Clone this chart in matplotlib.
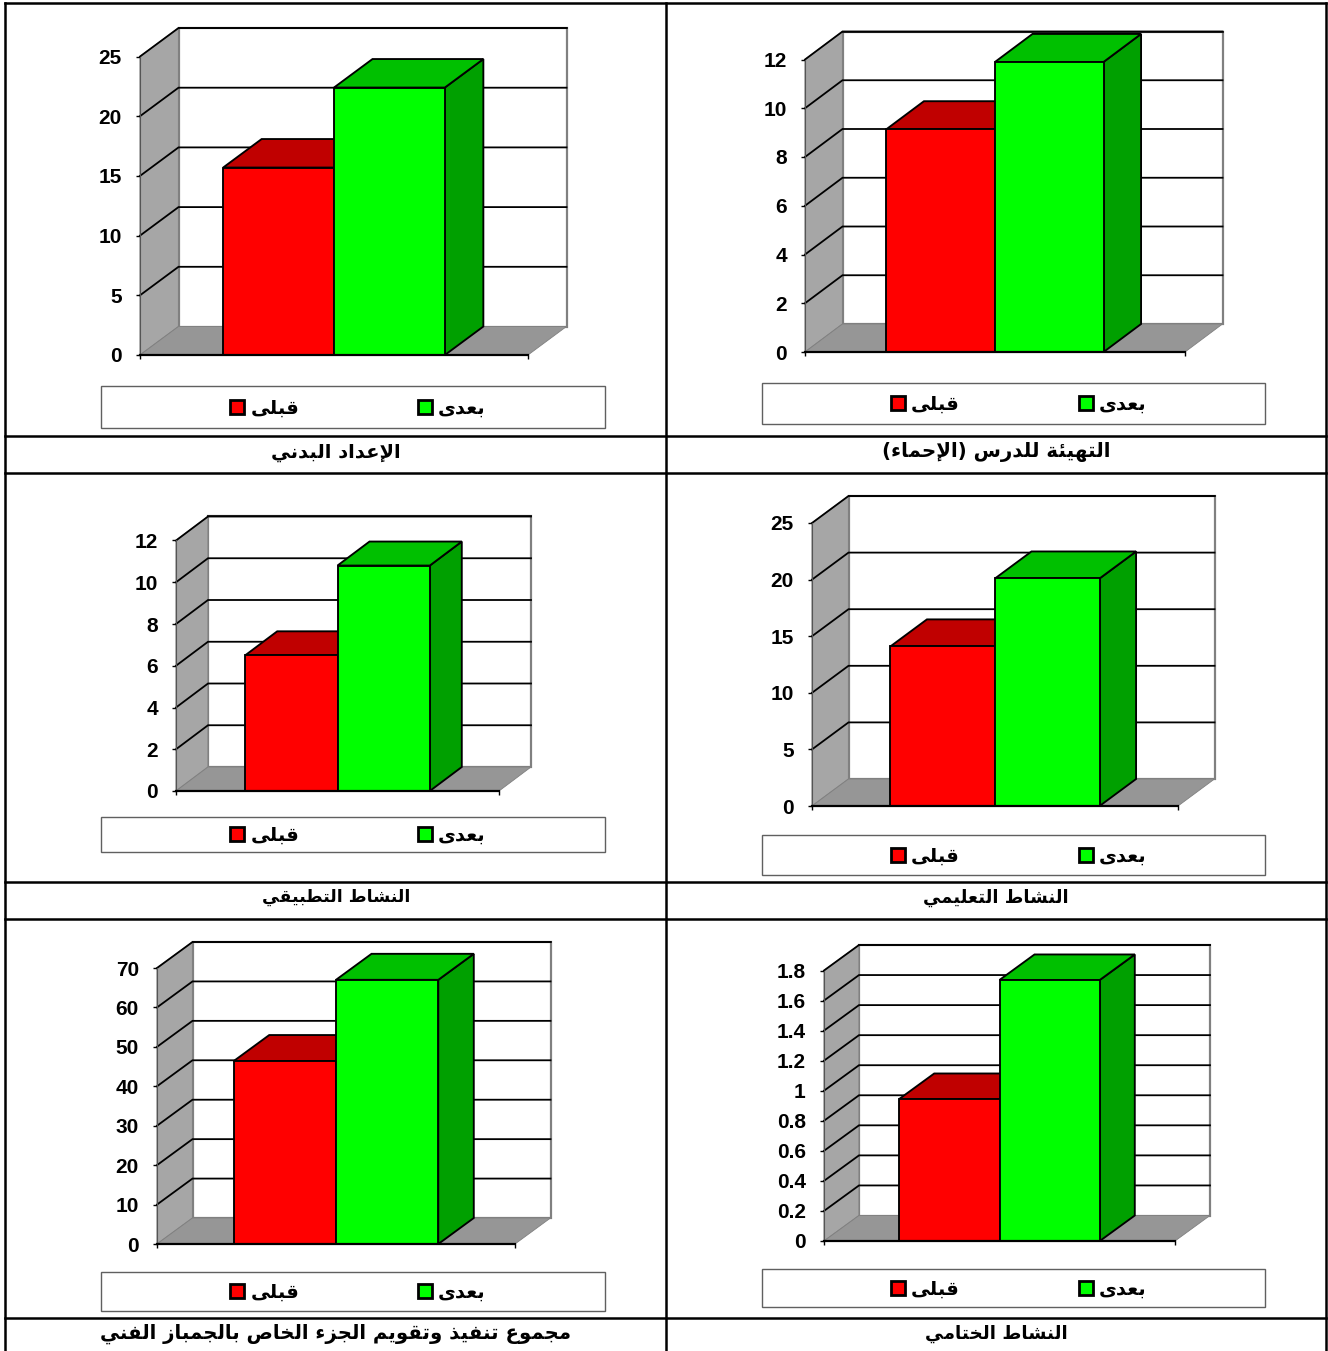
import matplotlib
matplotlib.use("Agg")
import matplotlib.pyplot as plt
from matplotlib.patches import Patch, Rectangle

# ---------- data ----------
titles = ["الإعداد البدني", "التهيئة للدرس (الإحماء)",
          "النشاط التطبيقي", "النشاط التعليمي",
          "مجموع تنفيذ وتقويم الجزء الخاص بالجمباز الفني", "النشاط الختامي"]
series_names = ["قبلى", "بعدى"]
before = [15.7, 9.14, 6.5, 14.1, 46.4, 0.945]
after = [22.4, 11.9, 10.8, 20.1, 67.0, 1.737]
ticks = [[0, 5, 10, 15, 20, 25],
         [0, 2, 4, 6, 8, 10, 12],
         [0, 2, 4, 6, 8, 10, 12],
         [0, 5, 10, 15, 20, 25],
         [0, 10, 20, 30, 40, 50, 60, 70],
         [0, 0.2, 0.4, 0.6, 0.8, 1.0, 1.2, 1.4, 1.6, 1.8]]
tick_labels = [["0", "5", "10", "15", "20", "25"],
               ["0", "2", "4", "6", "8", "10", "12"],
               ["0", "2", "4", "6", "8", "10", "12"],
               ["0", "5", "10", "15", "20", "25"],
               ["0", "10", "20", "30", "40", "50", "60", "70"],
               ["0", "0.2", "0.4", "0.6", "0.8", "1", "1.2", "1.4", "1.6", "1.8"]]

# ---------- layout (pixels in the figure) ----------
W, H = 1328, 1351
front_x0 = [140, 805, 176, 812, 157, 824]
front_x1 = [528, 1185, 499, 1178, 515, 1175]
front_y0 = [355, 352, 791, 806, 1244, 1241]
front_top = [56.5, 59.5, 540.5, 523, 968, 970.5]
depth_x = [38.5, 37.5, 32, 36.5, 35.5, 35]
depth_y = [28.5, 28, 24, 27, 26, 25.5]
legend_box = [(101, 605, 386, 428), (762, 1265, 383, 424), (101, 605, 817, 852),
              (762, 1265, 835, 875), (101, 605, 1272, 1311), (762, 1265, 1269, 1307)]
title_xy = [(336, 452), (996, 452), (336, 897), (996, 897), (336, 1333), (996, 1333)]
title_pt = [14.0, 14.2, 12.4, 12.9, 14.1, 13.2]
table_v = [5, 666, 1326]
table_h = [3, 436, 473, 882, 919, 1318]

# ---------- Arabic shaping to presentation forms (visual order) ----------
_forms = {}
_cp = 0xFE80
for _ch, _n in [("ء", 1), ("آ", 2), ("أ", 2), ("ؤ", 2), ("إ", 2), ("ئ", 4), ("ا", 2), ("ب", 4),
                ("ة", 2), ("ت", 4), ("ث", 4), ("ج", 4), ("ح", 4), ("خ", 4), ("د", 2), ("ذ", 2),
                ("ر", 2), ("ز", 2), ("س", 4), ("ش", 4), ("ص", 4), ("ض", 4), ("ط", 4), ("ظ", 4),
                ("ع", 4), ("غ", 4), ("ف", 4), ("ق", 4), ("ك", 4), ("ل", 4), ("م", 4), ("ن", 4),
                ("ه", 4), ("و", 2), ("ى", 2), ("ي", 4)]:
    _forms[_ch] = [chr(_cp + i) for i in range(_n)]
    _cp += _n
_lam_alef = {"آ": "\uFEF5", "أ": "\uFEF7", "إ": "\uFEF9", "ا": "\uFEFB"}


def shape(text):
    letters = []
    i = 0
    while i < len(text):
        c = text[i]
        if c == "ل" and i + 1 < len(text) and text[i + 1] in _lam_alef:
            letters.append(("LA", text[i + 1]))
            i += 2
        else:
            letters.append(("C", c))
            i += 1

    def joins_next(item):
        kind, c = item
        return kind == "C" and c in _forms and len(_forms[c]) == 4

    def joinable(item):
        kind, c = item
        return kind == "LA" or (c in _forms and len(_forms[c]) > 1)

    out = []
    for k, item in enumerate(letters):
        kind, c = item
        prev_j = k > 0 and joins_next(letters[k - 1]) and joinable(item)
        next_j = joins_next(item) and k + 1 < len(letters) and joinable(letters[k + 1])
        if kind == "LA":
            out.append(chr(ord(_lam_alef[c]) + (1 if prev_j else 0)))
        elif c in _forms:
            f = _forms[c]
            if len(f) == 1:
                out.append(f[0])
            elif len(f) == 2:
                out.append(f[1] if prev_j else f[0])
            else:
                out.append(f[3] if prev_j and next_j else f[1] if prev_j else f[2] if next_j else f[0])
        else:
            out.append({"(": ")", ")": "("}.get(c, c))
    return "".join(reversed(out))


# ---------- figure ----------
fig = plt.figure(figsize=(W / 100, H / 100), dpi=100, facecolor="white")
bg = fig.add_axes([0, 0, 1, 1], zorder=0)
bg.set_xlim(0, W)
bg.set_ylim(H, 0)
bg.axis("off")

for x in table_v:
    bg.plot([x, x], [table_h[0], H], color="black", lw=1.8, solid_capstyle="projecting")
for y in table_h:
    bg.plot([table_v[0], table_v[-1]], [y, y], color="black", lw=1.8, solid_capstyle="projecting")

AR = "DejaVu Sans"
NUM = "Liberation Sans"
LEG_PT = 14.0
LEG_PX = LEG_PT * 100 / 72
LW = 1.35

for i in range(6):
    x0, x1, y0, yt = front_x0[i], front_x1[i], front_y0[i], front_top[i]
    ax = fig.add_axes([x0 / W, 1 - y0 / H, (x1 - x0) / W, (y0 - yt) / H], zorder=1)
    ax.patch.set_alpha(0)
    ymax = ticks[i][-1]
    ax.set_xlim(0, 3.5)
    ax.set_ylim(0, ymax)
    ddx = depth_x[i] * 3.5 / (x1 - x0)
    ddy = depth_y[i] * ymax / (y0 - yt)
    # walls and floor
    ax.fill([ddx, 3.5 + ddx, 3.5 + ddx, ddx], [ddy, ddy, ymax + ddy, ymax + ddy],
            fc="white", ec="#808080", lw=1.6, clip_on=False, zorder=1)
    ax.plot([ddx, 3.5 + ddx], [ymax + ddy, ymax + ddy], color="#202020", lw=1.3,
            clip_on=False, zorder=1.2)
    ax.fill([0, ddx, ddx, 0], [0, ddy, ymax + ddy, ymax], fc="#A6A6A6", ec="#808080", lw=0.8,
            clip_on=False, zorder=1.1)
    ax.fill([0, ddx, 3.5 + ddx, 3.5], [0, ddy, ddy, 0], fc="#969696", ec="#808080", lw=0.6,
            clip_on=False, zorder=1.1)
    # gridlines across left wall and back wall
    for v in ticks[i][1:]:
        ax.plot([0, ddx, 3.5 + ddx], [v, v + ddy, v + ddy], color="black", lw=1.3,
                clip_on=False, zorder=1.5, solid_joinstyle="miter")
    # bars
    for pos, val, fc, top, side in [(0.75, before[i], "#FF0000", "#C00000", "#A00000"),
                                    (1.75, after[i], "#00FF00", "#00C000", "#00A000")]:
        ax.fill([pos + 1, pos + 1 + ddx, pos + 1 + ddx, pos + 1], [0, ddy, val + ddy, val],
                fc=side, ec="black", lw=LW, clip_on=False, zorder=2)
        ax.fill([pos, pos + ddx, pos + 1 + ddx, pos + 1], [val, val + ddy, val + ddy, val],
                fc=top, ec="black", lw=LW, clip_on=False, zorder=2)
        ax.bar(pos, val, width=1, align="edge", color=fc, edgecolor="black", lw=LW,
               clip_on=False, zorder=2.2)
    # axes
    for s in ["top", "right"]:
        ax.spines[s].set_visible(False)
    ax.spines["left"].set_color("#555555")
    ax.spines["left"].set_linewidth(0.8)
    ax.spines["bottom"].set_color("black")
    ax.spines["bottom"].set_linewidth(1.6)
    ax.spines["bottom"].set_zorder(3)
    ax.set_yticks(ticks[i])
    ax.set_yticklabels(tick_labels[i], fontfamily=NUM, fontweight="bold", fontsize=15)
    ax.set_xticks([0, 3.5])
    ax.set_xticklabels(["", ""])
    ax.tick_params(axis="y", length=2.6, width=1.0, pad=10.5)
    ax.tick_params(axis="x", length=2.6, width=1.0)
    # legend frame and legend
    lx0, lx1, ly0, ly1 = legend_box[i]
    bg.add_patch(Rectangle((lx0, ly0), lx1 - lx0, ly1 - ly0, fc="white", ec="#606060", lw=1.0))
    handles = [Patch(fc="#FF0000", ec="black", lw=2.0), Patch(fc="#00FF00", ec="black", lw=2.0)]
    ax.legend(handles, [shape(n) for n in series_names], ncol=2, loc="center",
              bbox_to_anchor=((lx0 + lx1) / 2 + 5, (ly0 + ly1) / 2 + 1),
              bbox_transform=bg.transData, frameon=False,
              prop={"family": AR, "weight": "bold", "size": LEG_PT},
              handlelength=14 / LEG_PX, handleheight=14 / LEG_PX,
              handletextpad=6 / LEG_PX, columnspacing=(188 - 14 - 6 - 49) / LEG_PX,
              borderpad=0, borderaxespad=0)
    # panel title
    bg.text(title_xy[i][0], title_xy[i][1] + 0.5, shape(titles[i]), ha="center", va="center",
            fontfamily=AR, fontweight="bold", fontsize=title_pt[i])

fig.savefig("out.png", dpi=100)
